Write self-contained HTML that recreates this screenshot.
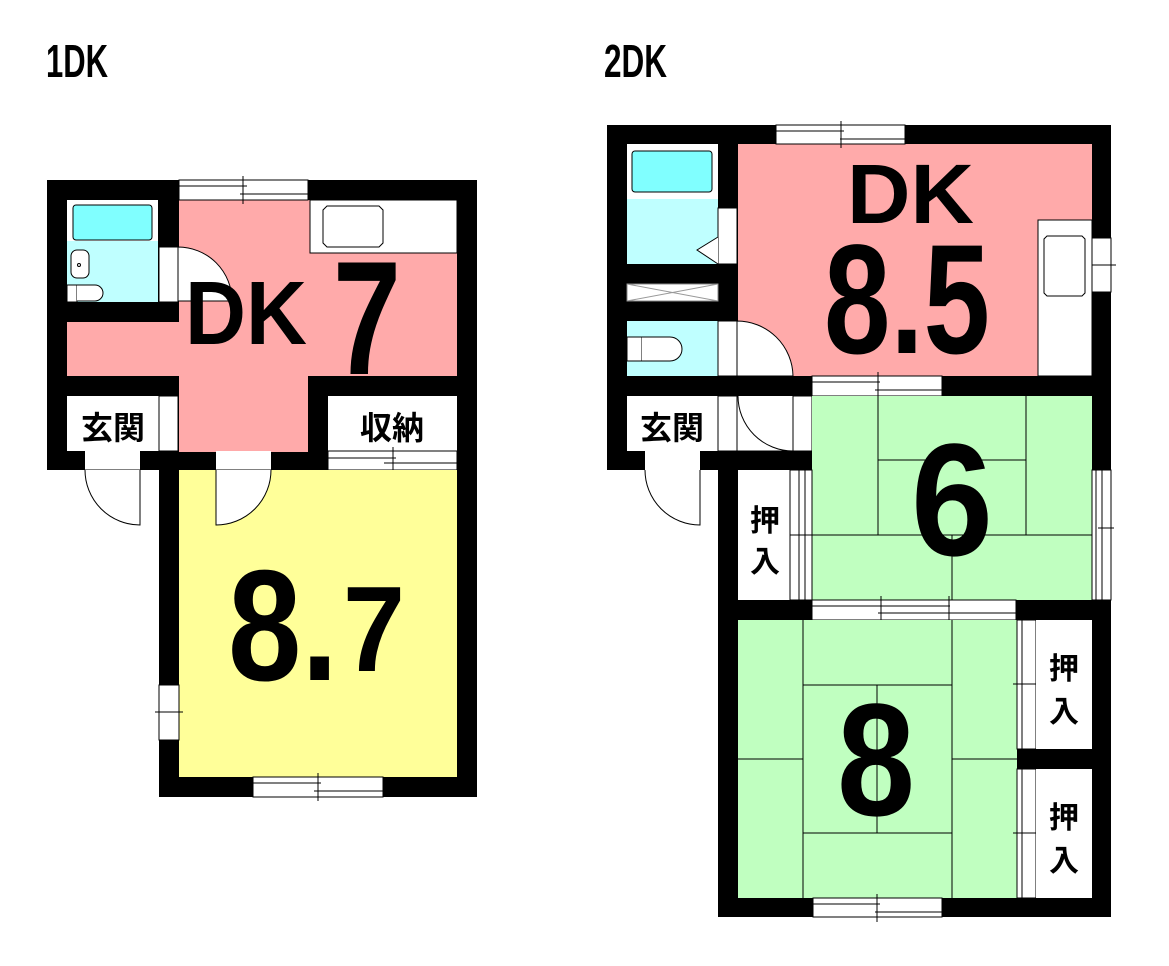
<!DOCTYPE html>
<html><head><meta charset="utf-8"><style>html,body{margin:0;padding:0;background:#fff}svg{display:block}</style></head><body>
<svg width="1169" height="966" viewBox="0 0 1169 966" xmlns="http://www.w3.org/2000/svg" font-family="Liberation Sans, Noto Sans CJK JP, sans-serif">
<rect width="1169" height="966" fill="#fff"/>
<text x="46" y="77" font-size="46" font-weight="bold" textLength="62" lengthAdjust="spacingAndGlyphs">1DK</text>
<text x="604" y="77" font-size="46" font-weight="bold" textLength="63" lengthAdjust="spacingAndGlyphs">2DK</text>

<!-- LEFT PLAN -->
<g>
<rect x="47" y="180" width="430" height="290" fill="#000"/>
<rect x="159" y="470" width="318" height="327" fill="#000"/>
<rect x="179" y="200" width="278" height="252" fill="#ffaaaa"/>
<rect x="67" y="322" width="390" height="54" fill="#ffaaaa"/>
<rect x="308" y="376" width="149" height="76" fill="#000"/>
<rect x="67" y="200" width="91" height="102" fill="#bfffff"/>
<rect x="67" y="200" width="91" height="41" fill="#fff"/>
<rect x="73" y="205" width="79" height="35" rx="3" fill="#80ffff" stroke="#000" stroke-width="1"/>
<rect x="71" y="250" width="18" height="28" rx="6" fill="#fff" stroke="#000" stroke-width="1"/>
<circle cx="79" cy="265" r="1.5" fill="none" stroke="#000"/>
<rect x="67" y="285" width="10" height="17" fill="#fff" stroke="#000" stroke-width="1"/>
<path d="M77 285 H95 A8 8 0 0 1 95 301 H77" fill="#fff" stroke="#000"/>
<rect x="159" y="247" width="19" height="55" fill="#fff" stroke="#000" stroke-width="1"/>
<path d="M178 247 A54 54 0 0 1 232 301 H178 Z" fill="#fff" stroke="#000"/>
<rect x="310" y="200" width="147" height="53" fill="#fff" stroke="#000" stroke-width="1"/>
<path d="M327 206 H379 L383 210 V243 L379 247 H327 L323 243 V210 Z" fill="#fff" stroke="#000"/>
<rect x="67" y="396" width="92" height="55" fill="#fff"/>
<rect x="159" y="396" width="19" height="55" fill="#fff" stroke="#000" stroke-width="1"/>
<text x="113" y="439" font-size="32" font-weight="bold" text-anchor="middle">玄関</text>
<rect x="328" y="396" width="129" height="55" fill="#fff"/>
<text x="392" y="439" font-size="32" font-weight="bold" text-anchor="middle">収納</text>
<rect x="328" y="451" width="129" height="19" fill="#fff" stroke="#000" stroke-width="1"/>
<path d="M328 458 H396 M384 463 H457 M393 447 V474" stroke="#000" stroke-width="1"/>
<rect x="179" y="180" width="129" height="20" fill="#fff" stroke="#000" stroke-width="1"/>
<path d="M179 186 H247 M240 194 H308 M243 176 V204" stroke="#000"/>
<rect x="179" y="470" width="278" height="307" fill="#ffff99"/>
<rect x="85" y="451" width="55" height="19" fill="#fff"/>
<path d="M85 470 H140" stroke="#000"/>
<path d="M140 470 V525 A55 55 0 0 1 85 470" fill="#fff" stroke="#000"/>
<rect x="216" y="451" width="55" height="19" fill="#fff"/>
<path d="M216 470 H271" stroke="#000"/>
<path d="M216 470 V525 A55 55 0 0 0 271 470" fill="#fff" stroke="#000"/>
<rect x="253" y="777" width="130" height="20" fill="#fff" stroke="#000" stroke-width="1"/>
<path d="M253 783 H321 M314 791 H383 M318 773 V801" stroke="#000"/>
<rect x="159" y="685" width="20" height="55" fill="#fff" stroke="#000" stroke-width="1"/>
<path d="M155 712 H183" stroke="#000"/>
<text x="185" y="344" font-size="90" font-weight="bold" textLength="122" lengthAdjust="spacingAndGlyphs">DK</text>
<text x="333" y="374" font-size="162" font-weight="bold" textLength="68" lengthAdjust="spacingAndGlyphs">7</text>
<text x="228" y="680" font-size="158" font-weight="bold" textLength="110" lengthAdjust="spacingAndGlyphs">8.</text>
<text x="343" y="671" font-size="122" font-weight="bold" textLength="62" lengthAdjust="spacingAndGlyphs">7</text>
</g>

<!-- RIGHT PLAN -->
<g>
<rect x="607" y="125" width="504" height="345" fill="#000"/>
<rect x="718" y="470" width="393" height="447" fill="#000"/>
<rect x="738" y="144" width="354" height="232" fill="#ffaaaa"/>
<rect x="627" y="144" width="91" height="55" fill="#fff"/>
<rect x="632" y="151" width="80" height="41" rx="3" fill="#80ffff" stroke="#000"/>
<rect x="627" y="199" width="91" height="65" fill="#bfffff"/>
<rect x="718" y="208" width="19" height="56" fill="#fff" stroke="#000" stroke-width="1"/>
<path d="M718 237 L697 250 L718 264" fill="#fff" stroke="#000"/>
<rect x="627" y="284" width="91" height="17" fill="#fff" stroke="#888" stroke-width="1"/>
<path d="M627 284 L718 301 M718 284 L627 301" stroke="#999"/>
<rect x="627" y="321" width="91" height="55" fill="#bfffff"/>
<rect x="627" y="337" width="15" height="24" fill="#fff" stroke="#000"/>
<path d="M642 337 H670 A12 12 0 0 1 670 361 H642" fill="#fff" stroke="#000"/>
<rect x="718" y="321" width="19" height="55" fill="#fff" stroke="#000" stroke-width="1"/>
<path d="M737 321 A56 56 0 0 1 793 376 H737 Z" fill="#fff" stroke="#000"/>
<rect x="1038" y="220" width="54" height="156" fill="#fff" stroke="#000" stroke-width="1"/>
<path d="M1047 236 H1082 L1085 239 V293 L1082 296 H1047 L1044 293 V239 Z" fill="#fff" stroke="#000"/>
<rect x="1092" y="238" width="19" height="54" fill="#fff" stroke="#000" stroke-width="1"/>
<path d="M1092 265 H1116" stroke="#000"/>
<rect x="776" y="125" width="129" height="19" fill="#fff" stroke="#000" stroke-width="1"/>
<path d="M776 131 H844 M840 139 H905 M841 121 V148" stroke="#000"/>
<rect x="812" y="376" width="130" height="20" fill="#fff" stroke="#000" stroke-width="1"/>
<path d="M812 382 H880 M875 390 H942 M878 372 V400" stroke="#000"/>
<rect x="627" y="396" width="91" height="55" fill="#fff"/>
<text x="672" y="439" font-size="32" font-weight="bold" text-anchor="middle">玄関</text>
<rect x="718" y="396" width="19" height="55" fill="#fff" stroke="#000" stroke-width="1"/>
<rect x="737" y="396" width="75" height="55" fill="#fff" stroke="#000" stroke-width="1"/>
<path d="M793 396 V451 A55 55 0 0 1 738 396" fill="#fff" stroke="#000"/>
<rect x="645" y="451" width="55" height="19" fill="#fff"/>
<path d="M700 470 V525 A55 55 0 0 1 645 470" fill="#fff" stroke="#000"/>
<rect x="812" y="396" width="280" height="204" fill="#c0ffc0"/>
<path d="M878 396 V535 M1026 396 V535 M878 460 H1026 M812 535 H1092 M952 535 V600" stroke="#000" stroke-width="1"/>
<rect x="1092" y="470" width="19" height="130" fill="#fff" stroke="#000" stroke-width="1"/>
<path d="M1096 470 V600 M1102 470 V600 M1098 528 H1114" stroke="#000"/>
<rect x="738" y="470" width="52" height="130" fill="#fff"/>
<rect x="790" y="470" width="22" height="130" fill="#fff" stroke="#000" stroke-width="1"/>
<path d="M799 470 V600 M805 470 V600 M790 535 H812" stroke="#000"/>
<text x="765" y="531" font-size="30" font-weight="bold" text-anchor="middle">押</text>
<text x="765" y="572" font-size="30" font-weight="bold" text-anchor="middle">入</text>
<rect x="812" y="600" width="204" height="20" fill="#fff" stroke="#000" stroke-width="1"/>
<path d="M812 606 H950 M878 613 H1016 M881 596 V624 M949 596 V624" stroke="#000"/>
<rect x="738" y="620" width="279" height="278" fill="#c0ffc0"/>
<path d="M803 620 V898 M952 620 V898 M803 685 H952 M803 833 H952 M877 685 V833 M738 759 H803 M952 759 H1017" stroke="#000" stroke-width="1"/>
<rect x="1017" y="620" width="19" height="129" fill="#fff" stroke="#000" stroke-width="1"/>
<rect x="1017" y="769" width="19" height="129" fill="#fff" stroke="#000" stroke-width="1"/>
<path d="M1022 620 V749 M1022 769 V898 M1013 684 H1040 M1013 833 H1040" stroke="#000"/>
<rect x="1036" y="620" width="56" height="129" fill="#fff"/>
<rect x="1036" y="769" width="56" height="129" fill="#fff"/>
<text x="1064" y="679" font-size="30" font-weight="bold" text-anchor="middle">押</text>
<text x="1064" y="722" font-size="30" font-weight="bold" text-anchor="middle">入</text>
<text x="1064" y="828" font-size="30" font-weight="bold" text-anchor="middle">押</text>
<text x="1064" y="871" font-size="30" font-weight="bold" text-anchor="middle">入</text>
<rect x="813" y="898" width="129" height="19" fill="#fff" stroke="#000" stroke-width="1"/>
<path d="M813 904 H880 M875 912 H942 M877 894 V922" stroke="#000"/>
<text x="847" y="223" font-size="84" font-weight="bold" textLength="127" lengthAdjust="spacingAndGlyphs">DK</text>
<text x="824" y="353" font-size="156" font-weight="bold" textLength="166" lengthAdjust="spacingAndGlyphs">8.5</text>
<text x="911" y="555" font-size="160" font-weight="bold" textLength="82" lengthAdjust="spacingAndGlyphs">6</text>
<text x="837" y="815" font-size="160" font-weight="bold" textLength="78" lengthAdjust="spacingAndGlyphs">8</text>
</g>
</svg>
</body></html>
